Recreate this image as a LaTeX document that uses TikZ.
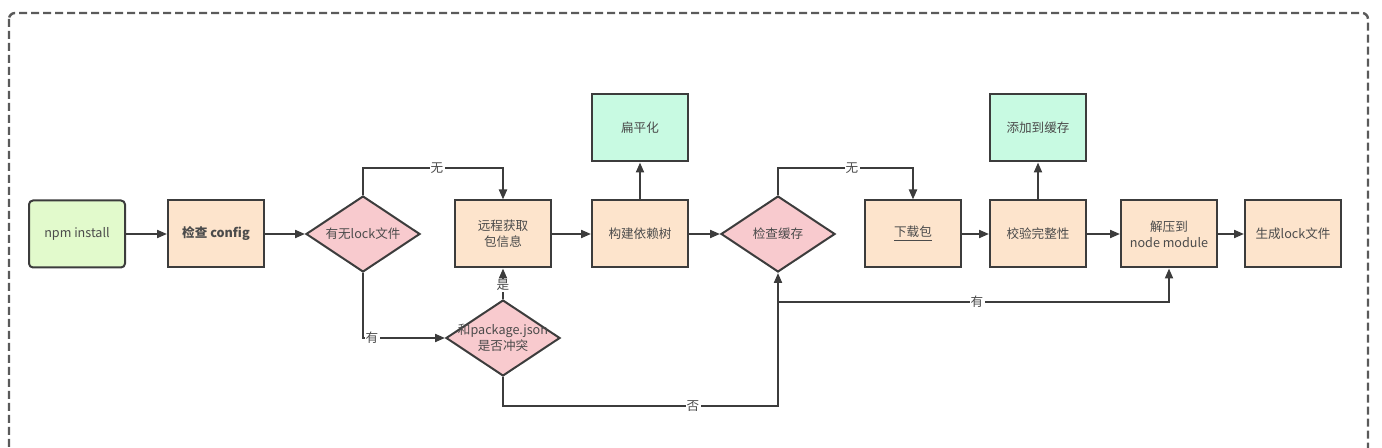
\documentclass[tikz,border=0pt]{standalone}
\usepackage{fontspec}
\setmainfont{Noto Sans CJK SC}
\usepackage{tikz}
\usetikzlibrary{positioning,calc}
\usetikzlibrary{arrows.meta,shapes.geometric}
\definecolor{StartGreen}{RGB}{226,250,204}
\definecolor{StepPeach}{RGB}{253,228,204}
\definecolor{AskPink}{RGB}{248,202,206}
\definecolor{SideMint}{RGB}{200,250,226}
\definecolor{LineGray}{RGB}{60,60,60}
\definecolor{TextGray}{RGB}{75,75,75}
\definecolor{FrameGray}{RGB}{90,90,90}
\tikzset{
	every node/.style={font=\fontsize{6.3}{8}\selectfont,text=TextGray},
	box/.style={rectangle,draw=LineGray,line width=1pt,fill=StepPeach,
		minimum width=48pt,minimum height=33.5pt,inner sep=1pt,align=center},
	startbox/.style={box,fill=StartGreen,rounded corners=2pt},
	sidebox/.style={box,fill=SideMint},
	ask/.style={diamond,draw=LineGray,line width=1pt,fill=AskPink,
		minimum width=57pt,minimum height=38pt,inner sep=0pt},
	link/.style={draw=LineGray,line width=1pt,-{Triangle[length=5pt,width=4pt]}},
	tag/.style={fill=white,inner sep=0.6pt},
}
\begin{document}
\begin{tikzpicture}[x=0.5pt,y=-0.5pt]
	\useasboundingbox (0,0) rectangle (1382,448);
	\clip (0,0) rectangle (1382,448);
	\draw[FrameGray,line width=1.2pt,dash pattern=on 4pt off 2pt,rounded corners=3pt]
		(9,13) rectangle (1368,470);
	% main row
	\node[startbox] (npm) at (77,234) {npm install};
	\node[box] (cfg) at (216,234) {\bfseries 检查 config};
	\node[ask,label={[align=center]center:有无lock文件}] (lock) at (363,234) {};
	\node[box] (fetch) at (503,234) {远程获取\\包信息};
	\node[box] (tree) at (640,234) {构建依赖树};
	\node[sidebox] (flat) at (640,128) {扁平化};
	\node[ask,label={[align=center]center:检查缓存}] (cache) at (778,234) {};
	\node[box] (down) at (913,234) {\underline{下载包}};
	\node[box] (check) at (1038,234) {校验完整性};
	\node[sidebox] (save) at (1038,128) {添加到缓存};
	\node[box] (unzip) at (1169,234) {解压到\\node module};
	\node[box] (gen) at (1293,234) {生成lock文件};
	\node[ask,label={[align=center,text width=60pt]center:和package.json\\是否冲突}] (clash) at (503,338) {};
	\coordinate (split) at (778,302);
	% connectors
	\draw[link] (npm) -- (cfg);
	\draw[link] (cfg) -- (lock);
	\draw[link] (lock.north) |- (437,168) node[tag] {无} -| (fetch.north);
	\draw[link] (lock.south) |- (clash.west) node[tag,pos=0.555] {有};
	\draw[link] (clash.north) -- (fetch.south) node[tag,pos=0.45] {是};
	\draw[link] (clash.south) |- (693,406) node[tag] {否} -| (cache.south);
	\draw[link] (fetch) -- (tree);
	\draw[link] (tree) -- (flat);
	\draw[link] (tree) -- (cache);
	\draw[link] (cache.north) |- (852,168) node[tag] {无} -| (down.north);
	\draw[link] (down) -- (check);
	\draw[link] (check) -- (save);
	\draw[link] (check) -- (unzip);
	\draw[link] (unzip) -- (gen);
	\draw[link] (split) -- (977,302) node[tag] {有} -| (unzip.south);
\end{tikzpicture}
\end{document}
